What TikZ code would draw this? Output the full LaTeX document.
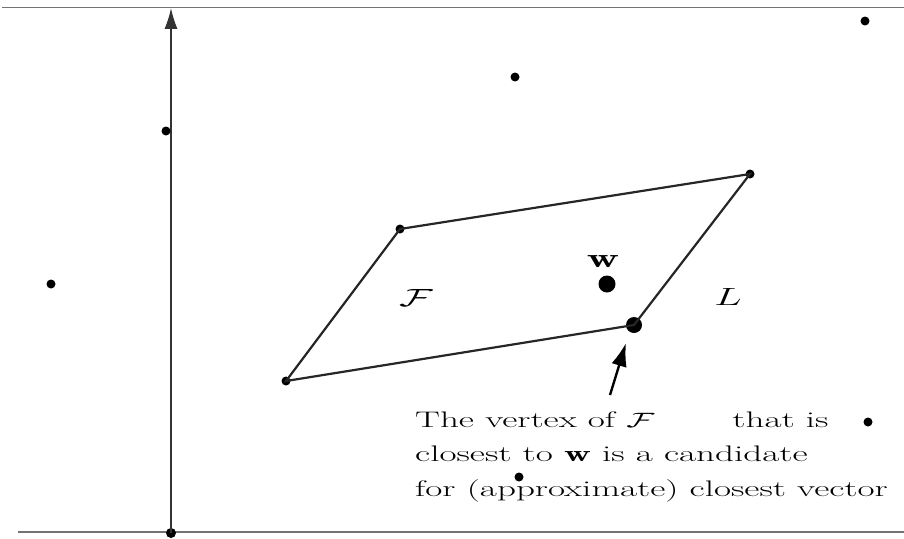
\documentclass[tikz,border=0pt]{standalone}
\usepackage{fontspec}
\usetikzlibrary{arrows.meta}
\newcommand{\widetext}[1]{\scalebox{1.65}[1]{#1}}
\begin{document}
\begin{tikzpicture}[x=1pt,y=-1pt,
  dot/.style={fill=black,shape=ellipse,inner sep=0pt,minimum width=9pt,minimum height=7pt},
  bigdot/.style={fill=black,inner sep=0pt,shape=ellipse,minimum width=16pt,minimum height=12pt},
  lbl/.style={inner sep=0pt,font=\fontsize{22.5}{28}\selectfont},
  biglbl/.style={inner sep=0pt,font=\fontsize{27}{32}\selectfont},
  edge/.style={line width=2.2pt,black!85},
  frame/.style={black!55,line width=1pt}]
\pgfdeclareshape{ellipse}{\inheritsavedanchors[from=circle]\inheritanchorborder[from=circle]\inheritanchor[from=circle]{center}\inheritbackgroundpath[from=circle]}
\useasboundingbox (0,0) rectangle (904,538);
% frame lines
\coordinate (tl) at (2,7);
\coordinate (tr) at (904,7);
\coordinate (bl) at (18,532);
\coordinate (br) at (904,532);
\draw[frame] (tl) -- (tr);
\draw[black!55,line width=2.2pt] (bl) -- (br);
% axis
\coordinate (top) at (171,8);
\node[dot,minimum width=10pt,minimum height=9pt] (o) at (171,533) {};
\draw[line width=1.6pt,black!80,-{Latex[length=16pt,width=10pt,scale=1.3]}] (o.center) -- (top);
% lattice points
\node[dot] (d1) at (865,21) {};
\node[dot] (d2) at (515,77) {};
\node[dot] (d3) at (166,131) {};
\node[dot] (d4) at (51,284) {};
\node[dot] (d8) at (868,422) {};
\node[dot] (d9) at (519,477) {};
% parallelogram
\node[dot] (a) at (286,381) {};
\node[dot] (b) at (400,229) {};
\node[dot] (c) at (750,174) {};
\node[bigdot] (v) at (634,325) {};
\draw[edge] (a.center) -- (b.center) -- (c.center) -- (v.center) -- cycle;
% w
\node[bigdot,minimum width=17pt,minimum height=13pt] (w) at (607,284) {};
\node[biglbl] (wl) at (603,262) {\widetext{$\mathbf{w}$}};
\node[biglbl] (F) at (416,298) {\widetext{$\mathcal{F}$}};
\node[biglbl] (L) at (728,297) {\widetext{$L$}};
% arrow
\coordinate (tail) at (610,395);
\draw[line width=2.4pt,-{Latex[length=18pt,width=12pt,scale=1.3]}] (tail) -- (626,343);
% text
\node[lbl,anchor=base west] (t1) at (415,427) {\widetext{The vertex of $\mathcal{F}$\hspace{2.1em}that is}};
\node[lbl,anchor=base west] (t2) at (415,461.5) {\widetext{closest to $\mathbf{w}$ is a candidate}};
\node[lbl,anchor=base west] (t3) at (415,496) {\widetext{for (approximate) closest vector}};
\end{tikzpicture}
\end{document}
